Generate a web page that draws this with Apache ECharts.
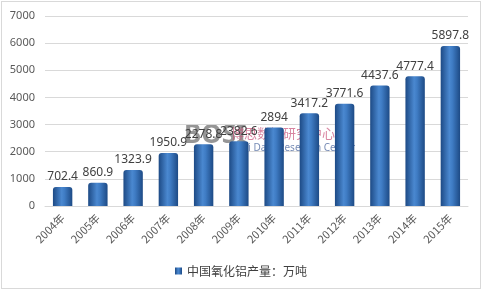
<!DOCTYPE html>
<html>
<head>
<meta charset="utf-8">
<script src="https://cdn.jsdelivr.net/npm/echarts@6/dist/echarts.min.js"></script>
<style>
  html, body { margin: 0; padding: 0; background: #fff; }
  #chart { position: absolute; left: 1px; top: 1px; width: 478px; height: 286px; border: 1px solid #d9d9d9; }
</style>
</head>
<body>
<div id="chart"></div>
<script>
// 中国氧化铝产量（万吨）
var years = ["2004年", "2005年", "2006年", "2007年", "2008年", "2009年", "2010年", "2011年", "2012年", "2013年", "2014年", "2015年"];
var output = [702.4, 860.9, 1323.9, 1950.9, 2278.8, 2382.6, 2894, 3417.2, 3771.6, 4437.6, 4777.4, 5897.8];
var yTicks = { min: 0, max: 7000, interval: 1000 };

var chart = echarts.init(document.getElementById("chart"));

var barColor = new echarts.graphic.LinearGradient(0, 0, 1, 0, [
  { offset: 0, color: "#1d4a85" },
  { offset: 0.45, color: "#4a88d0" },
  { offset: 0.6, color: "#3f7cc4" },
  { offset: 1, color: "#1d4a85" }
]);

var option = {
  animation: false,
  grid: { left: 43, right: 12, top: 14, bottom: 82 },
  legend: {
    bottom: 6,
    left: "center",
    itemWidth: 7,
    itemHeight: 7,
    itemGap: 4,
    icon: "rect",
    textStyle: { color: "#404040", fontSize: 12, fontFamily: "Noto Sans CJK SC" },
    data: ["中国氧化铝产量：万吨"]
  },
  xAxis: {
    type: "category",
    data: years,
    axisTick: { show: false },
    axisLine: { lineStyle: { color: "#d9d9d9" } },
    axisLabel: {
      rotate: 45,
      interval: 0,
      color: "#595959",
      fontSize: 11,
      margin: 10,
      fontFamily: "Noto Sans CJK SC"
    }
  },
  yAxis: {
    type: "value",
    min: yTicks.min,
    max: yTicks.max,
    interval: yTicks.interval,
    axisLine: { show: false },
    axisTick: { show: false },
    splitLine: { lineStyle: { color: "#d9d9d9" } },
    axisLabel: {
      color: "#595959",
      fontSize: 11,
      margin: 10,
      fontFamily: "Noto Sans",
      formatter: function (v) { return String(v); }
    }
  },
  series: [
    {
      name: "中国氧化铝产量：万吨",
      type: "bar",
      barWidth: "55%",
      data: output,
      itemStyle: { color: barColor, borderRadius: [3, 3, 0, 0] },
      label: {
        show: true,
        position: "top",
        distance: 4,
        color: "#404040",
        fontSize: 12,
        fontFamily: "Noto Sans"
      }
    }
  ],
  graphic: [
    {
      type: "text",
      left: 182,
      top: 121,
      style: { text: "BOSI", fill: "rgba(80,80,80,0.6)", font: "bold 26px Noto Sans" }
    },
    {
      type: "text",
      left: 229,
      top: 125,
      style: { text: "博思数据研究中心", fill: "rgba(200,80,120,0.7)", font: "13px Noto Sans CJK SC" }
    },
    {
      type: "text",
      left: 229,
      top: 141,
      style: { text: "Bosi Data Research Center", fill: "rgba(60,90,150,0.7)", font: "10px Noto Sans" }
    }
  ]
};

chart.setOption(option);
</script>
</body>
</html>
